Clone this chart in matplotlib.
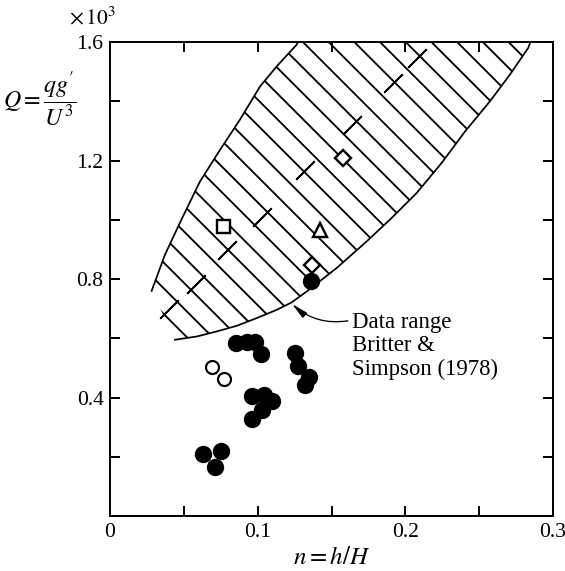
import numpy as np
import matplotlib
matplotlib.use('Agg')
import matplotlib.pyplot as plt
from matplotlib.patches import Polygon
from matplotlib.collections import LineCollection
from matplotlib.transforms import IdentityTransform

plt.rcParams['font.family'] = ['Liberation Serif', 'DejaVu Serif']
plt.rcParams['mathtext.fontset'] = 'stix'

# data (Q values in units of 10^-3)
filled_n = [0.085, 0.093, 0.098, 0.102, 0.125, 0.127, 0.135, 0.132, 0.096, 0.104,
            0.110, 0.103, 0.096, 0.063, 0.075, 0.071, 0.136]
filled_q = [0.584, 0.588, 0.588, 0.547, 0.551, 0.507, 0.470, 0.443, 0.405, 0.409,
            0.389, 0.358, 0.328, 0.209, 0.220, 0.166, 0.794]
open_n = [0.069, 0.077]
open_q = [0.503, 0.463]
square_n = [0.0765]
square_q = [0.980]
diamond_n = [0.158, 0.137]
diamond_q = [1.209, 0.848]
triangle_n = [0.142]
triangle_q = [0.966]
cross_n = [0.0401, 0.0582, 0.0794, 0.1027, 0.132, 0.1636, 0.1918, 0.2077]
cross_q = [0.698, 0.784, 0.899, 1.011, 1.169, 1.321, 1.462, 1.546]

# Britter & Simpson (1978) data range boundaries
left_n = [0.0282, 0.0372, 0.0485, 0.0609, 0.0745, 0.088, 0.1016, 0.1129, 0.1264, 0.129]
left_q = [0.760, 0.882, 1.002, 1.129, 1.236, 1.338, 1.450, 1.518, 1.591, 1.62]
lower_n = [0.0440, 0.0587, 0.0722, 0.0858, 0.0993, 0.1129, 0.1230, 0.1332, 0.1537,
           0.1738, 0.1907, 0.2076, 0.2246, 0.2404, 0.2573, 0.2708, 0.2832, 0.2862]
lower_q = [0.595, 0.606, 0.623, 0.642, 0.668, 0.696, 0.721, 0.758, 0.838,
           0.927, 1.006, 1.090, 1.192, 1.298, 1.400, 1.490, 1.580, 1.62]

W, H, dpi = 565, 571, 156
fig = plt.figure(figsize=(W / dpi, H / dpi), dpi=dpi)
ax = fig.add_axes([0.1947, 0.0963, 0.9788 - 0.1947, 0.9264 - 0.0963])
ax.set_xlim(0, 0.3)
ax.set_ylim(0, 1.6)

verts = list(zip(left_n, left_q)) + list(zip(lower_n[::-1], lower_q[::-1]))
region = Polygon(verts, closed=True, facecolor='none', edgecolor='none', linewidth=0)
ax.add_patch(region)

# hatching: diagonal lines (upper-left to lower-right) in pixel space, clipped to region
spacing = 25.7
segs = []
for c in 3.9 + spacing * np.arange(-25, 24):
    segs.append([(c + H, 0), (c, H)])
hatch = LineCollection(segs, transform=IdentityTransform(), colors='black',
                       linewidths=0.85)
ax.add_collection(hatch, autolim=False)
hatch.set_clip_path(region)

ax.plot(left_n, left_q, color='black', lw=0.8)
ax.plot(lower_n, lower_q, color='black', lw=0.8)

ax.plot(cross_n, cross_q, linestyle='none', marker=(2, 2, -45), ms=12, mew=0.85,
        color='black')
ax.plot(filled_n, filled_q, linestyle='none', marker='o', ms=7, color='black', zorder=5)
ax.plot(open_n, open_q, linestyle='none', marker='o', ms=6, mfc='white', mec='black',
        mew=1.0, zorder=5)
ax.plot(square_n, square_q, linestyle='none', marker='s', ms=6, mfc='white', mec='black',
        mew=1.1, zorder=5)
ax.plot(diamond_n, diamond_q, linestyle='none', marker='D', ms=5.5, mfc='white',
        mec='black', mew=1.1, zorder=5)
ax.plot(triangle_n, triangle_q, linestyle='none', marker='^', ms=6.5, mfc='white',
        mec='black', mew=1.1, zorder=5)

ax.annotate('Data range\nBritter &\nSimpson (1978)', xy=(0.1232, 0.716),
            xytext=(0.164, 0.689), ha='left', va='top', fontsize=10.5,
            linespacing=1.15,
            arrowprops=dict(arrowstyle='-|>,head_length=0.6,head_width=0.12',
                            color='black', lw=0.6, shrinkA=0, shrinkB=0,
                            connectionstyle='arc3,rad=-0.25',
                            relpos=(0.0, 0.88)))

ax.set_xticks(np.arange(0, 0.301, 0.05))
ax.set_xticklabels(['0', '', '0.1', '', '0.2', '', '0.3'])
ax.set_yticks(np.arange(0, 1.601, 0.2))
ax.set_yticklabels(['', '', '0.4', '', '0.8', '', '1.2', '', '1.6'])
ax.tick_params(direction='in', top=True, right=True, length=4.5, width=0.9,
               labelsize=10, pad=3)
for s in ax.spines.values():
    s.set_linewidth(0.9)

ax.set_xlabel(r'$n = h/H$', fontsize=11.5, labelpad=2.5)
fig.text(0.071, 0.825, r"$Q = \dfrac{qg^{\prime}}{U^3}$", fontsize=11,
         ha='center', va='center')
fig.text(0.163, 0.968, r'$\times\,10^3$', fontsize=10, ha='center', va='center')

fig.savefig('out.png', dpi=dpi)
